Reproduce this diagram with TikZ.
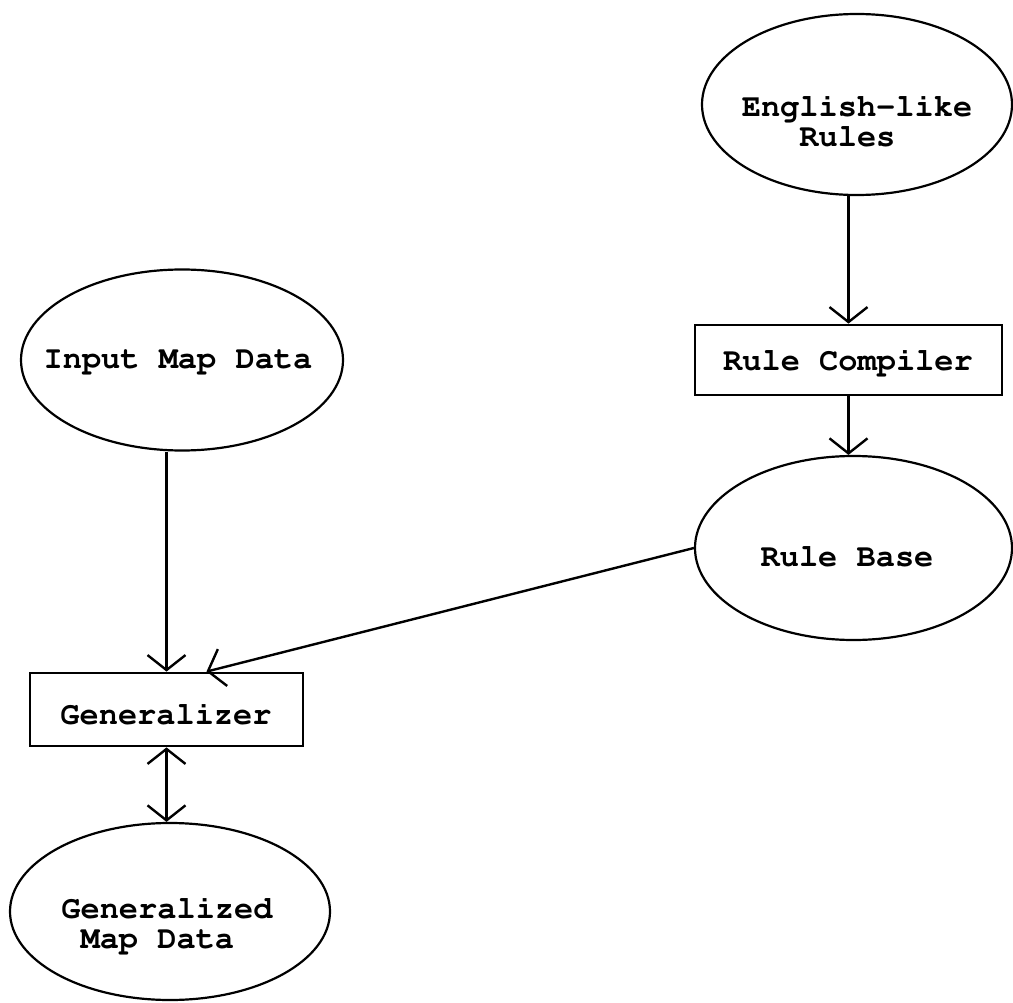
\documentclass[tikz,border=0pt]{standalone}
\usetikzlibrary{shapes.geometric,arrows.meta}
\newcommand{\typefont}{\fontencoding{T1}\fontfamily{pcr}\fontseries{b}\fontsize{32}{30}\selectfont}
\tikzset{
  ell/.style={ellipse, draw, line width=2.2pt, inner sep=0pt},
  procbox/.style={rectangle, draw, line width=2.8pt, inner sep=0pt},
  lbl/.style={font=\typefont, inner sep=0pt},
  barb/.style={Straight Barb[length=15pt,width=38pt,line width=2.4pt]},
  flow/.style={line width=2.4pt, -{Straight Barb[length=15pt,width=38pt,line width=2.4pt]}},
  twoway/.style={line width=2.4pt, {Straight Barb[length=15pt,width=38pt,line width=2.4pt]}-{Straight Barb[length=15pt,width=38pt,line width=2.4pt]}}
}
\begin{document}
\begin{tikzpicture}[x=1pt, y=-1pt]
  \useasboundingbox (0,0) rectangle (1013,1003);

  % ellipses (data) and boxes (programs)
  \node[ell, minimum width=310pt, minimum height=181pt] (eng) at (857,104.5) {};
  \node[lbl, align=left] (engt) at (857,121) {English-like\\\hphantom{xxx}Rules};

  \node[ell, minimum width=322pt, minimum height=181pt] (inp) at (182,360) {};
  \node[lbl] (inpt) at (178,362) {Input Map Data};

  \node[procbox, minimum width=307pt, minimum height=70pt] (comp) at (848.5,360) {};
  \node[lbl] (compt) at (848,362) {Rule Compiler};

  \node[ell, minimum width=317pt, minimum height=184pt] (base) at (853.5,548) {};
  \node[lbl] (baset) at (847,557) {Rule Base};

  \node[procbox, minimum width=273pt, minimum height=73pt] (gen) at (166.5,709.5) {};
  \node[lbl] (gent) at (166,714) {Generalizer};

  \node[ell, minimum width=320pt, minimum height=177pt] (out) at (170,911.5) {};
  \node[lbl, align=left] (outt) at (167,925) {Generalized\\\hphantom{x}Map Data};

  % connectors
  \draw[flow] (comp.north |- eng.south) -- (comp.north);
  \draw[flow] (comp.south) -- (comp.south |- base.north);
  \draw[flow] (gen.north |- inp.south) -- (gen.north);
  \draw[flow] (base.west) -- ([xshift=40pt]gen.north);
  \draw[twoway] (gen.south) -- (gen.south |- out.north);
\end{tikzpicture}
\end{document}
